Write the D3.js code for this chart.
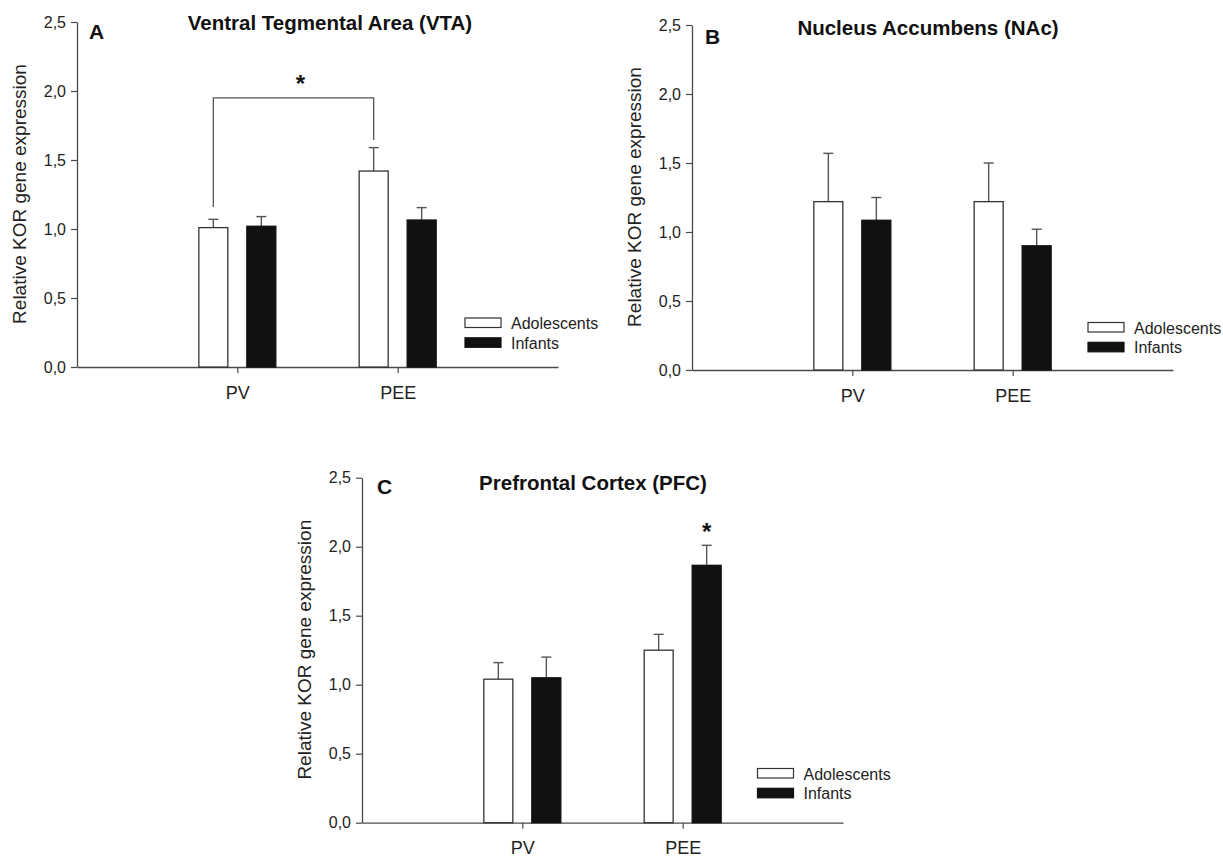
<!DOCTYPE html>
<html>
<head>
<meta charset="utf-8">
<script src="https://cdnjs.cloudflare.com/ajax/libs/d3/7.8.5/d3.min.js"></script>
<style>
  html, body { margin: 0; padding: 0; background: #fff; }
  svg { display: block; font-family: "Liberation Sans", Arial, Helvetica, sans-serif; }
</style>
</head>
<body>
<svg id="chart" width="1223" height="857"></svg>
<script>
// ---------------- data ----------------
const groups = ["PV", "PEE"];
const seriesNames = ["Adolescents", "Infants"];
const yTickValues = [0, 0.5, 1.0, 1.5, 2.0, 2.5];
const yTickLabels = ["0,0", "0,5", "1,0", "1,5", "2,0", "2,5"];
const yLabel = "Relative KOR gene expression";

// Panel A – VTA
const vtaAdolMean = [1.01, 1.42];
const vtaAdolSem  = [0.06, 0.17];
const vtaInfMean  = [1.02, 1.065];
const vtaInfSem   = [0.07, 0.09];

// Panel B – NAc
const nacAdolMean = [1.22, 1.22];
const nacAdolSem  = [0.35, 0.28];
const nacInfMean  = [1.085, 0.90];
const nacInfSem   = [0.165, 0.12];

// Panel C – PFC
const pfcAdolMean = [1.04, 1.25];
const pfcAdolSem  = [0.12, 0.115];
const pfcInfMean  = [1.05, 1.865];
const pfcInfSem   = [0.15, 0.145];

const titles = ["Ventral Tegmental Area (VTA)", "Nucleus Accumbens (NAc)", "Prefrontal Cortex (PFC)"];
const letters = ["A", "B", "C"];

// ---------------- layout ----------------
const panels = [
  { ax: 77,  y0: 367,   letterX: 89,  letterY: 39,  titleX: 330, titleY: 29.5,
    adolM: vtaAdolMean, adolS: vtaAdolSem, infM: vtaInfMean, infS: vtaInfSem,
    legX: 465, legY: 318,
    bracket: { from: 0, to: 1, y: 1.95, leftBottom: 1.16, rightBottom: 1.645 } },
  { ax: 692, y0: 370,   letterX: 705, letterY: 43.5, titleX: 928, titleY: 35,
    adolM: nacAdolMean, adolS: nacAdolSem, infM: nacInfMean, infS: nacInfSem,
    legX: 1088, legY: 322.5 },
  { ax: 362, y0: 822.7, letterX: 377, letterY: 494, titleX: 593, titleY: 490,
    adolM: pfcAdolMean, adolS: pfcAdolSem, infM: pfcInfMean, infS: pfcInfSem,
    legX: 757.5, legY: 768.5,
    starOn: { group: 1, series: 1 } }
];

const plotH = 345, plotW = 481, barW = 29, barOff = 24;
const axisColor = "#4a4a4a", errColor = "#555";

const svg = d3.select("#chart");

panels.forEach((p, i) => {
  const g = svg.append("g");
  const y = d3.scaleLinear().domain([0, 2.5]).range([p.y0, p.y0 - plotH]);
  const x = d3.scaleLinear().domain([0, 3]).range([p.ax, p.ax + plotW]);
  const gx = d => x(groups.indexOf(d) + 1);
  const sOff = d3.scaleOrdinal().domain(seriesNames).range([-barOff, barOff]);

  // y axis
  const yAxis = d3.axisLeft(y).tickValues(yTickValues)
    .tickFormat((d, k) => yTickLabels[k]).tickSize(6).tickSizeOuter(0).tickPadding(5);
  const ya = g.append("g").attr("transform", `translate(${p.ax},0)`).call(yAxis);
  ya.select(".domain").attr("stroke", axisColor).attr("stroke-width", 1.3);
  ya.selectAll(".tick line").attr("stroke", axisColor).attr("stroke-width", 1.2);
  ya.selectAll(".tick text").attr("font-size", 16).attr("fill", "#222")
    .attr("font-family", "Liberation Sans, Arial, sans-serif");

  // x axis
  const xAxis = d3.axisBottom(x).tickValues([1, 2])
    .tickFormat(d => groups[d - 1]).tickSize(6).tickSizeOuter(0).tickPadding(13);
  const xa = g.append("g").attr("transform", `translate(0,${p.y0})`).call(xAxis);
  xa.select(".domain").attr("stroke", axisColor).attr("stroke-width", 1.3);
  xa.selectAll(".tick line").attr("stroke", axisColor).attr("stroke-width", 1.2);
  xa.selectAll(".tick text").attr("font-size", 18).attr("fill", "#222")
    .attr("font-family", "Liberation Sans, Arial, sans-serif");

  // data rows
  const rows = [];
  groups.forEach((gr, k) => {
    rows.push({ group: gr, series: "Adolescents", mean: p.adolM[k], sem: p.adolS[k] });
    rows.push({ group: gr, series: "Infants", mean: p.infM[k], sem: p.infS[k] });
  });

  // error bars
  const eb = g.append("g").attr("stroke", errColor).attr("stroke-width", 1.4);
  rows.forEach(r => {
    const cx = gx(r.group) + sOff(r.series);
    eb.append("line").attr("x1", cx).attr("x2", cx).attr("y1", y(r.mean)).attr("y2", y(r.mean + r.sem));
    eb.append("line").attr("x1", cx - 5).attr("x2", cx + 5).attr("y1", y(r.mean + r.sem)).attr("y2", y(r.mean + r.sem));
  });

  // bars
  g.append("g").selectAll("rect").data(rows).join("rect")
    .attr("x", r => gx(r.group) + sOff(r.series) - barW / 2)
    .attr("width", barW)
    .attr("y", r => y(r.mean))
    .attr("height", r => p.y0 - y(r.mean))
    .attr("fill", r => r.series === "Adolescents" ? "#fff" : "#111")
    .attr("stroke", r => r.series === "Adolescents" ? "#333" : "#111")
    .attr("stroke-width", 1.3);

  // letter and title
  g.append("text").attr("x", p.letterX).attr("y", p.letterY).text(letters[i])
    .attr("font-size", 21).attr("font-weight", "bold").attr("fill", "#111");
  g.append("text").attr("x", p.titleX).attr("y", p.titleY).text(titles[i])
    .attr("text-anchor", "middle").attr("font-size", 20.5).attr("font-weight", "bold").attr("fill", "#111");

  // y label
  g.append("text")
    .attr("transform", `translate(${p.ax - 51},${p.y0 - 173}) rotate(-90)`)
    .attr("text-anchor", "middle").attr("font-size", 19).attr("fill", "#222")
    .text(yLabel);

  // legend
  const lg = g.append("g").attr("transform", `translate(${p.legX},${p.legY})`);
  seriesNames.forEach((s, k) => {
    lg.append("rect").attr("x", 0).attr("y", k * 19.8).attr("width", 36).attr("height", 9.5)
      .attr("fill", s === "Adolescents" ? "#fff" : "#111")
      .attr("stroke", s === "Adolescents" ? "#333" : "#111").attr("stroke-width", 1.2);
    lg.append("text").attr("x", 46).attr("y", k * 19.8 + 11).text(s)
      .attr("font-size", 16).attr("fill", "#222");
  });

  // significance bracket
  if (p.bracket) {
    const b = p.bracket;
    const xl = gx(groups[b.from]) + sOff("Adolescents");
    const xr = gx(groups[b.to]) + sOff("Adolescents");
    const yb = y(b.y);
    g.append("path")
      .attr("d", `M${xl},${y(b.leftBottom)}V${yb}H${xr}V${y(b.rightBottom)}`)
      .attr("fill", "none").attr("stroke", "#555").attr("stroke-width", 1.3);
    g.append("text").attr("x", (xl + xr) / 2 + 7).attr("y", yb - 6).text("*")
      .attr("text-anchor", "middle").attr("font-size", 24).attr("font-weight", "bold").attr("fill", "#111");
  }
  if (p.starOn) {
    const r = rows.find(d => d.group === groups[p.starOn.group] && d.series === seriesNames[p.starOn.series]);
    const cx = gx(r.group) + sOff(r.series);
    g.append("text").attr("x", cx).attr("y", y(r.mean + r.sem) - 5).text("*")
      .attr("text-anchor", "middle").attr("font-size", 24).attr("font-weight", "bold").attr("fill", "#111");
  }
});
</script>
</body>
</html>
